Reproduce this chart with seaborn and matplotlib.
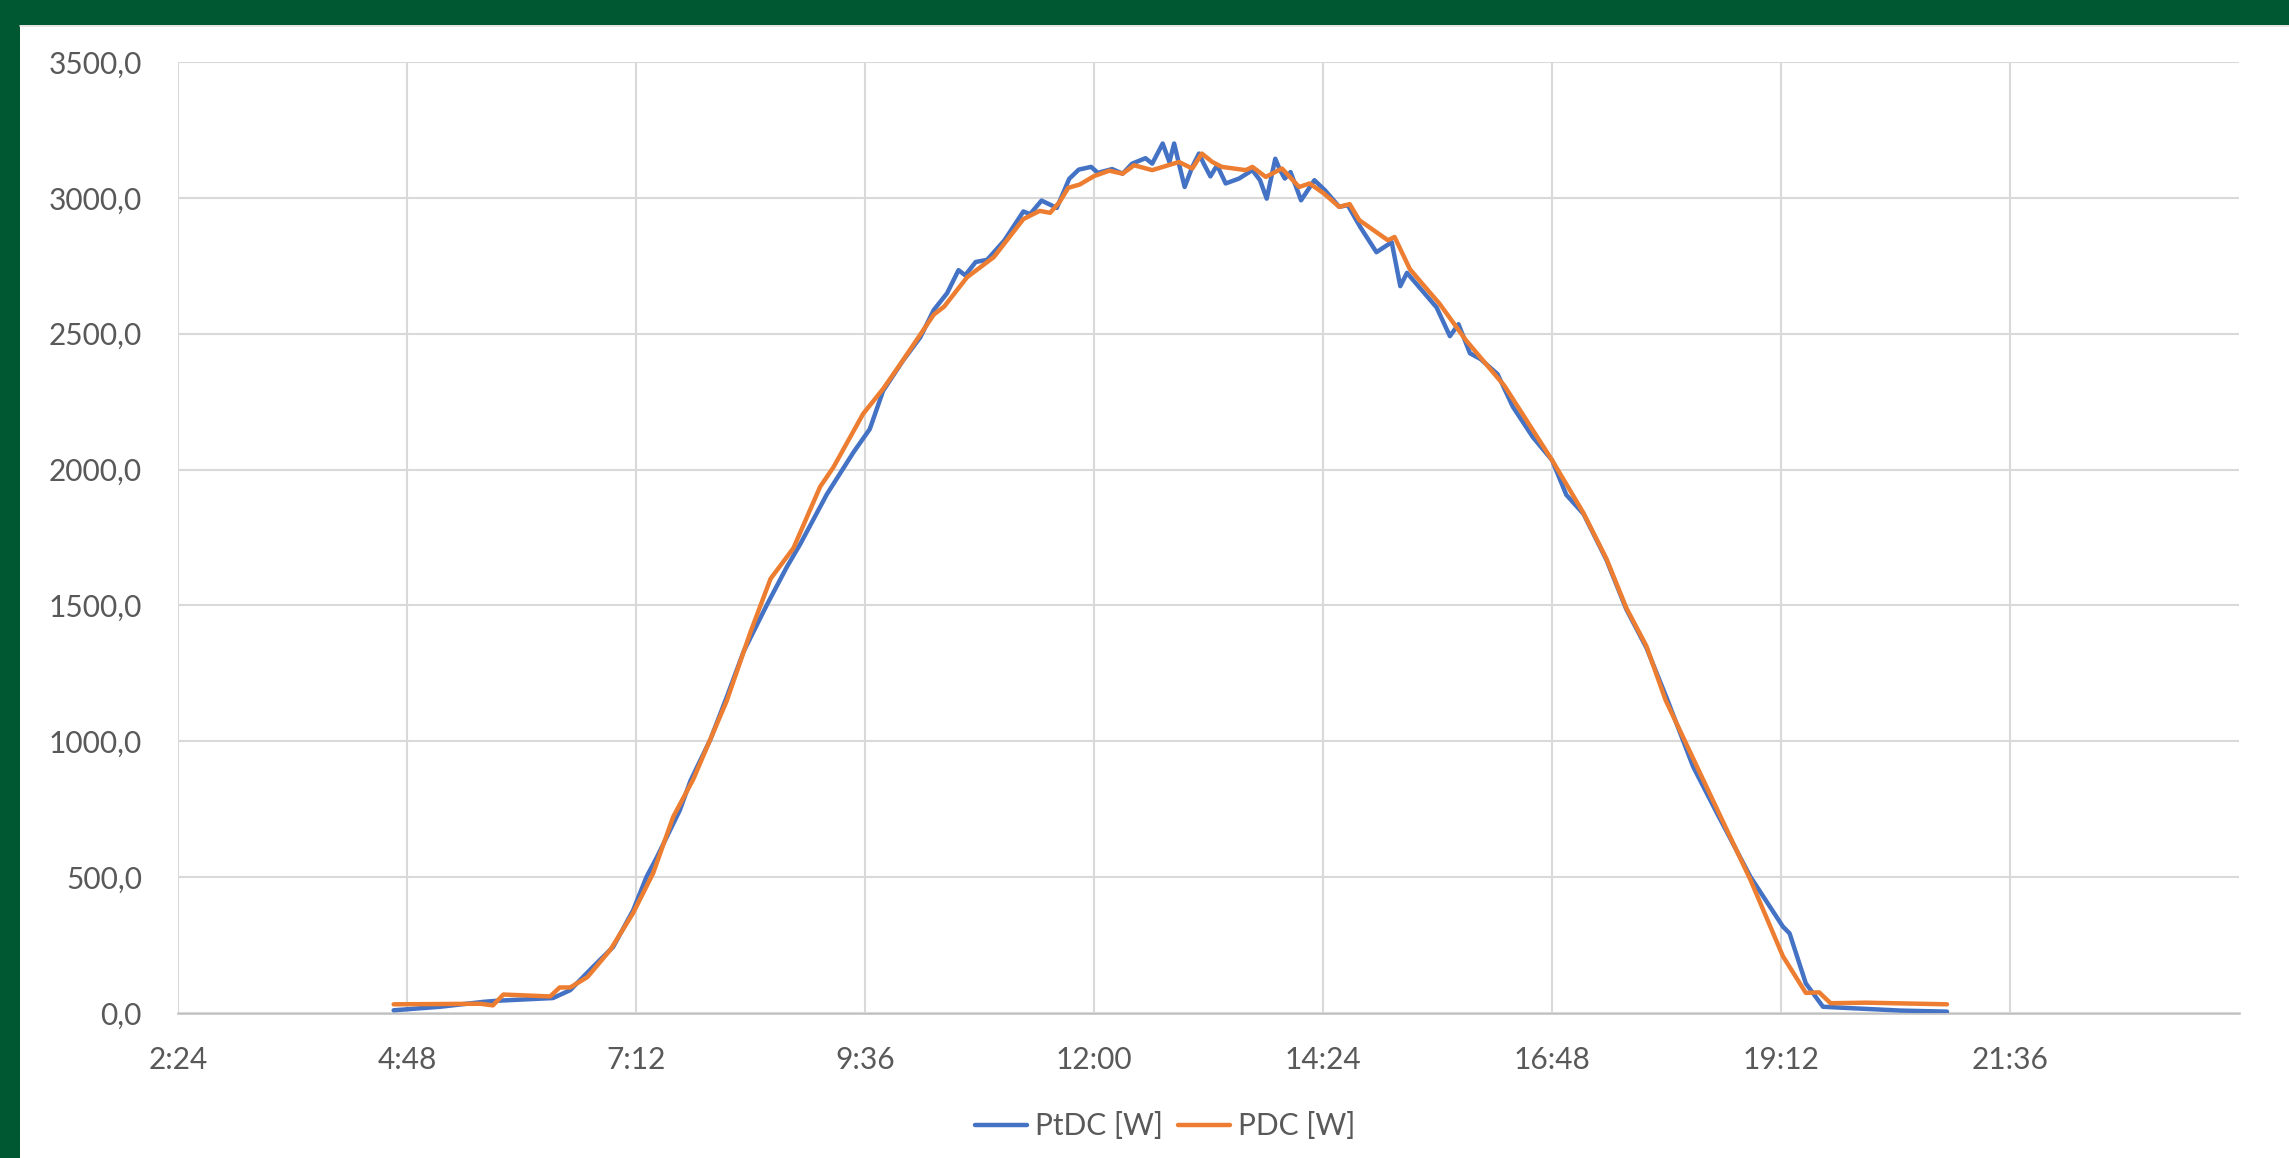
import numpy as np
import pandas as pd
import matplotlib
matplotlib.use("Agg")
import matplotlib.pyplot as plt
from matplotlib.ticker import FuncFormatter, FixedLocator
from matplotlib.patches import Rectangle
from matplotlib.lines import Line2D
import seaborn as sns

# ---- data (time of day in decimal hours, power in W) ----
ptdc_time = [4.66, 5.15, 5.60, 5.74, 6.33, 6.51, 6.75, 6.96, 7.17, 7.31, 7.42, 7.66, 7.77,
             7.98, 8.15, 8.33, 8.57, 8.78, 8.92, 9.20, 9.48, 9.65, 9.79, 10.00, 10.18,
             10.32, 10.46, 10.58, 10.65, 10.76, 10.88, 11.06, 11.26, 11.33, 11.45, 11.61,
             11.74, 11.84, 11.97, 12.04, 12.19, 12.30, 12.40, 12.54, 12.61, 12.72, 12.79,
             12.84, 12.89, 12.95, 13.03, 13.10, 13.15, 13.22, 13.29, 13.38, 13.52, 13.66,
             13.74, 13.81, 13.90, 13.95, 14.00, 14.06, 14.17, 14.31, 14.42, 14.57, 14.66,
             14.79, 14.96, 15.12, 15.21, 15.28, 15.59, 15.73, 15.82, 15.94, 16.05, 16.23,
             16.39, 16.60, 16.80, 16.95, 17.13, 17.37, 17.58, 17.79, 18.00, 18.28, 18.53,
             18.88, 19.22, 19.29, 19.46, 19.64, 19.92, 20.45, 20.94]
ptdc_w = [10, 23, 41, 45, 55, 84, 170, 243, 378, 501, 574, 747, 854,
          1007, 1162, 1332, 1501, 1641, 1725, 1909, 2064, 2149, 2290, 2402, 2487,
          2587, 2649, 2734, 2715, 2764, 2772, 2843, 2950, 2940, 2990, 2963,
          3070, 3104, 3114, 3092, 3106, 3089, 3126, 3146, 3126, 3200, 3132,
          3200, 3126, 3040, 3114, 3163, 3126, 3079, 3120, 3053, 3071, 3102,
          3065, 2997, 3144, 3102, 3071, 3095, 2991, 3065, 3028, 2967, 2973,
          2893, 2800, 2837, 2675, 2724, 2597, 2491, 2535, 2428, 2407, 2351,
          2231, 2119, 2035, 1907, 1837, 1668, 1485, 1344, 1161, 906, 735,
          501, 318, 293, 109, 23, 18, 9, 5]

pdc_time = [4.66, 5.57, 5.70, 5.81, 6.30, 6.40, 6.51, 6.69, 6.93, 7.17, 7.38, 7.59, 7.80,
            8.15, 8.40, 8.61, 8.85, 9.13, 9.27, 9.58, 9.79, 9.97, 10.32, 10.43, 10.67,
            10.95, 11.26, 11.43, 11.54, 11.64, 11.73, 11.85, 12.00, 12.16, 12.30, 12.42,
            12.61, 12.89, 13.03, 13.13, 13.24, 13.34, 13.59, 13.66, 13.80, 13.97, 14.15,
            14.26, 14.41, 14.57, 14.68, 14.78, 15.08, 15.15, 15.31, 15.45, 15.62, 15.90,
            16.30, 16.80, 17.13, 17.37, 17.58, 17.79, 17.99, 18.53, 18.88, 19.22, 19.46,
            19.60, 19.72, 20.09, 20.94]
pdc_w = [32, 34, 28, 68, 61, 94, 94, 132, 232, 368, 515, 722, 860,
         1148, 1402, 1598, 1711, 1937, 2009, 2205, 2297, 2388, 2570, 2600, 2708,
         2782, 2922, 2952, 2945, 2985, 3037, 3049, 3080, 3100, 3089, 3120,
         3102, 3132, 3108, 3163, 3132, 3114, 3102, 3114, 3077, 3108, 3040,
         3053, 3016, 2967, 2977, 2918, 2844, 2856, 2738, 2680, 2611, 2475,
         2309, 2035, 1840, 1672, 1490, 1350, 1152, 750, 490, 209, 74,
         76, 36, 38, 32]

series_names = ["PtDC [W]", "PDC [W]"]
series_colors = ["#4472C4", "#ED7D31"]
x_ticks = [2.4, 4.8, 7.2, 9.6, 12.0, 14.4, 16.8, 19.2, 21.6]
y_ticks = [0, 500, 1000, 1500, 2000, 2500, 3000, 3500]

df = pd.concat([
    pd.DataFrame({"time": ptdc_time, "power": ptdc_w, "series": series_names[0]}),
    pd.DataFrame({"time": pdc_time, "power": pdc_w, "series": series_names[1]}),
], ignore_index=True)

sns.set_theme(style="white")
plt.rcParams["font.family"] = ["Lato", "DejaVu Sans"]

W, H = 2289, 1158
fig = plt.figure(figsize=(W / 100, H / 100), dpi=100)
fig.patch.set_facecolor("white")

green = "#005832"
fig.add_artist(Rectangle((0, 1 - 25 / H), 1, 25 / H, transform=fig.transFigure,
                         facecolor=green, edgecolor="none", zorder=0))
fig.add_artist(Rectangle((0, 0), 20 / W, 1, transform=fig.transFigure,
                         facecolor=green, edgecolor="none", zorder=0))
fig.add_artist(Line2D([20 / W, 1], [1 - 26 / H, 1 - 26 / H], transform=fig.transFigure,
                      color="#E0E0E0", lw=1.2))

ax = fig.add_axes([178 / W, (H - 1013) / H, (2239 - 178) / W, (1013 - 62) / H])
ax.set_facecolor("white")

sns.lineplot(data=df, x="time", y="power", hue="series", hue_order=series_names,
             palette=series_colors, linewidth=3.2, ax=ax, legend=False,
             estimator=None, sort=True)
for ln in ax.lines:
    ln.set_solid_joinstyle("round")
    ln.set_solid_capstyle("round")

ax.set_xlim(2.4, 24.0)
ax.set_ylim(0, 3500)
ax.xaxis.set_major_locator(FixedLocator(x_ticks))
ax.yaxis.set_major_locator(FixedLocator(y_ticks))


def fmt_time(h, pos):
    m = int(round(h * 60))
    return f"{m // 60}:{m % 60:02d}"


def fmt_val(v, pos):
    return f"{v:.1f}".replace(".", ",")


ax.xaxis.set_major_formatter(FuncFormatter(fmt_time))
ax.yaxis.set_major_formatter(FuncFormatter(fmt_val))
ax.grid(True, color="#D9D9D9", linewidth=1.5)
ax.set_axisbelow(True)
for s in ["top", "right", "left"]:
    ax.spines[s].set_visible(False)
ax.spines["bottom"].set_color("#BFBFBF")
ax.spines["bottom"].set_linewidth(1.8)
ax.spines["bottom"].set_zorder(0.5)
ax.tick_params(axis="both", length=0, labelsize=21.5, labelcolor="#595959")
ax.tick_params(axis="y", pad=26)
ax.tick_params(axis="x", pad=24)
ax.set_xlabel("")
ax.set_ylabel("")

handles = [Line2D([], [], color=c, lw=3.2) for c in series_colors]
fig.legend(handles, series_names, loc="center", bbox_to_anchor=(1165 / W, 1 - 1126 / H),
           ncol=2, frameon=False, fontsize=21.5, labelcolor="#595959",
           handlelength=1.75, handletextpad=0.25, columnspacing=0.5)

fig.savefig("out.png", dpi=100, facecolor=fig.get_facecolor())
